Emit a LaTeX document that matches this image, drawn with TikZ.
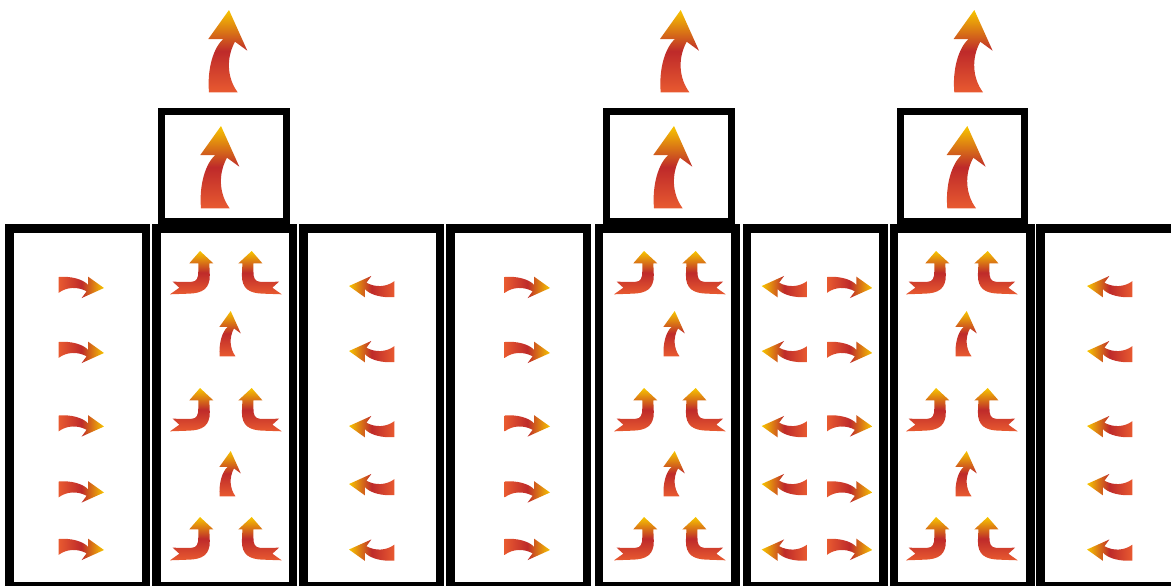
\documentclass[tikz,border=0pt]{standalone}
\usepackage{xcolor}

\definecolor{flameyellow}{HTML}{F7C600}
\definecolor{flamered}{HTML}{BE2A2A}
\definecolor{flameorange}{HTML}{E85A30}

% arrow outlines, tip at the origin, pointing up
\newcommand{\flamepath}{(0,0) -- (18.3,40.7) -- (6,31.7)
  .. controls (-3,48) and (-2,68) .. (8.7,82.3) -- (-20,82.3)
  .. controls (-22,60) and (-16,38) .. (-5.7,29) -- (-20.7,29) -- cycle}
\newcommand{\cornerpath}{(0,0) -- (13.3,12.3) -- (9.3,12.3) -- (9.8,24)
  .. controls (10,38) and (2,42) .. (-10,42.6) -- (-30,43.3) -- (-20.7,36.7)
  -- (-27.3,30.7) -- (-9,30.9) .. controls (-3,30.6) and (-1.7,27) .. (-1.7,20)
  -- (-1.7,12.3) -- (-10.7,12.3) -- cycle}

\begin{document}
\begin{tikzpicture}[
  x=0.5pt, y=-0.5pt,
  tallbox/.style={draw, line width=4.25pt, minimum width=68.25pt,
    minimum height=178.75pt, inner sep=0pt},
  capbox/.style={draw, line width=3.5pt, minimum width=62.25pt,
    minimum height=55.4pt, inner sep=0pt},
  upflame/.style={top color=flameyellow, bottom color=flameorange, middle color=flamered},
  rightflame/.style={left color=flameorange, right color=flameyellow,
    middle color=flamered, rotate=-90, scale=0.55},
  leftflame/.style={left color=flameyellow, right color=flameorange,
    middle color=flamered, rotate=90, scale=0.55}
]
\useasboundingbox (0,0) rectangle (1171,585);

% columns
\node[tallbox] (col1) at (77.7,407.25) {};
\node[tallbox] (col2) at (224.8,407.25) {};
\node[tallbox] (col3) at (371.5,407.25) {};
\node[tallbox] (col4) at (518.5,407.25) {};
\node[tallbox] (col5) at (667.45,407.25) {};
\node[tallbox] (col6) at (815.1,407.25) {};
\node[tallbox] (col7) at (962,407.25) {};
\node[tallbox] (col8) at (1108.75,407.25) {};

% caps
\node[capbox] (cap1) at (223.75,166.4) {};
\node[capbox] (cap2) at (668.8,166.4) {};
\node[capbox] (cap3) at (962.5,166.4) {};

% rising arrows
\foreach \x/\y in {229/10, 680.7/10, 974.3/10, 221/126, 674/126, 967.3/126}
  \shade[shift={(\x,\y)}, upflame] \flamepath;

% sideways arrows
\foreach \y in {288,353,426.5,492.5,550} {
  \shade[shift={(104,\y)}, rightflame] \flamepath;
  \shade[shift={(550,\y)}, rightflame] \flamepath;
  \shade[shift={(872.3,\y)}, rightflame] \flamepath;
}
\foreach \y in {286,351,426,484,549.5} {
  \shade[shift={(349,\y)}, leftflame] \flamepath;
  \shade[shift={(761.7,\y)}, leftflame] \flamepath;
  \shade[shift={(1087,\y)}, leftflame] \flamepath;
}

% corner arrows
\foreach \dx in {0,444,736} {
  \foreach \y in {251,388,517} {
    \shade[shift={(200+\dx,\y)}, upflame] \cornerpath;
    \shade[shift={(251.7+\dx,\y)}, xscale=-1, upflame] \cornerpath;
  }
  \foreach \y in {311,451}
    \shade[shift={(230.7+\dx,\y)}, scale=0.55, upflame] \flamepath;
}
\end{tikzpicture}
\end{document}
